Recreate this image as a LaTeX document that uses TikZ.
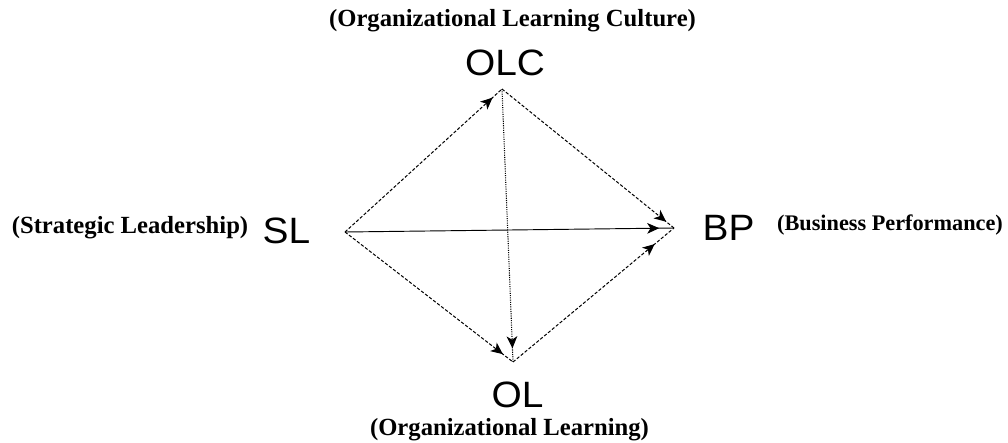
\documentclass[tikz,border=0pt]{standalone}
\usepackage{fontspec}
\setmainfont{Liberation Serif}
\newfontfamily\labelfont{Liberation Sans}
\usetikzlibrary{arrows.meta,decorations.markings}
\begin{document}
\begin{tikzpicture}[x=0.75pt,y=-0.75pt,
  abbr/.style={font=\labelfont\fontsize{27.5}{30}\selectfont, inner sep=0pt, anchor=base},
  desc/.style={font=\bfseries\fontsize{18.5}{21}\selectfont, inner sep=0pt, anchor=base},
  descsmall/.style={desc, font=\bfseries\fontsize{16.7}{19}\selectfont},
  link/.style={draw=black, line width=0.75pt, dash pattern=on 2.4pt off 1.4pt},
  solidlink/.style={draw=black, line width=0.7pt},
  dotlink/.style={draw=black, line width=0.8pt, dash pattern=on 0.8pt off 0.9pt},
  arrowat/.style={postaction={decorate, decoration={markings,
      mark=at position #1 with {\pgfsetdash{}{0pt}\arrow{Stealth[length=9pt,width=8pt,inset=2.5pt]}}}}}
]
% canvas
\fill[white] (0,0) rectangle (1008,443);
\useasboundingbox (0,0) rectangle (1008,443);

% corners of the diamond
\coordinate (sl)  at (345,232);
\coordinate (olc) at (502,89);
\coordinate (bp)  at (674,228);
\coordinate (ol)  at (513,362);

% abbreviations
\node[abbr] (olcT) at (505,75)   {\scalebox{1.06}[1]{OLC}};
\node[abbr] (slT)  at (286.5,243) {\scalebox{1.06}[1]{SL}};
\node[abbr] (bpT)  at (728.5,240) {\scalebox{1.06}[1]{BP}};
\node[abbr] (olT)  at (517.5,407) {\scalebox{1.06}[1]{OL}};

% full names
\node[desc] (olcD) at (512.5,26) {(Organizational Learning Culture)};
\node[desc] (slD)  at (130,233)  {(Strategic Leadership)};
\node[descsmall] (bpD) at (890,230) {(Business Performance)};
\node[desc] (olD)  at (509.5,435) {(Organizational Learning)};

% relationships
\draw[link, arrowat=0.94]       (sl)  -- (olc);
\draw[link, arrowat=0.955]      (olc) -- (bp);
\draw[solidlink, arrowat=0.955] (sl)  -- (bp);
\draw[dotlink, arrowat=0.95]    (olc) -- (ol);
\draw[link, arrowat=0.94]       (sl)  -- (ol);
\draw[link, arrowat=0.88]       (ol)  -- (bp);
\end{tikzpicture}
\end{document}
